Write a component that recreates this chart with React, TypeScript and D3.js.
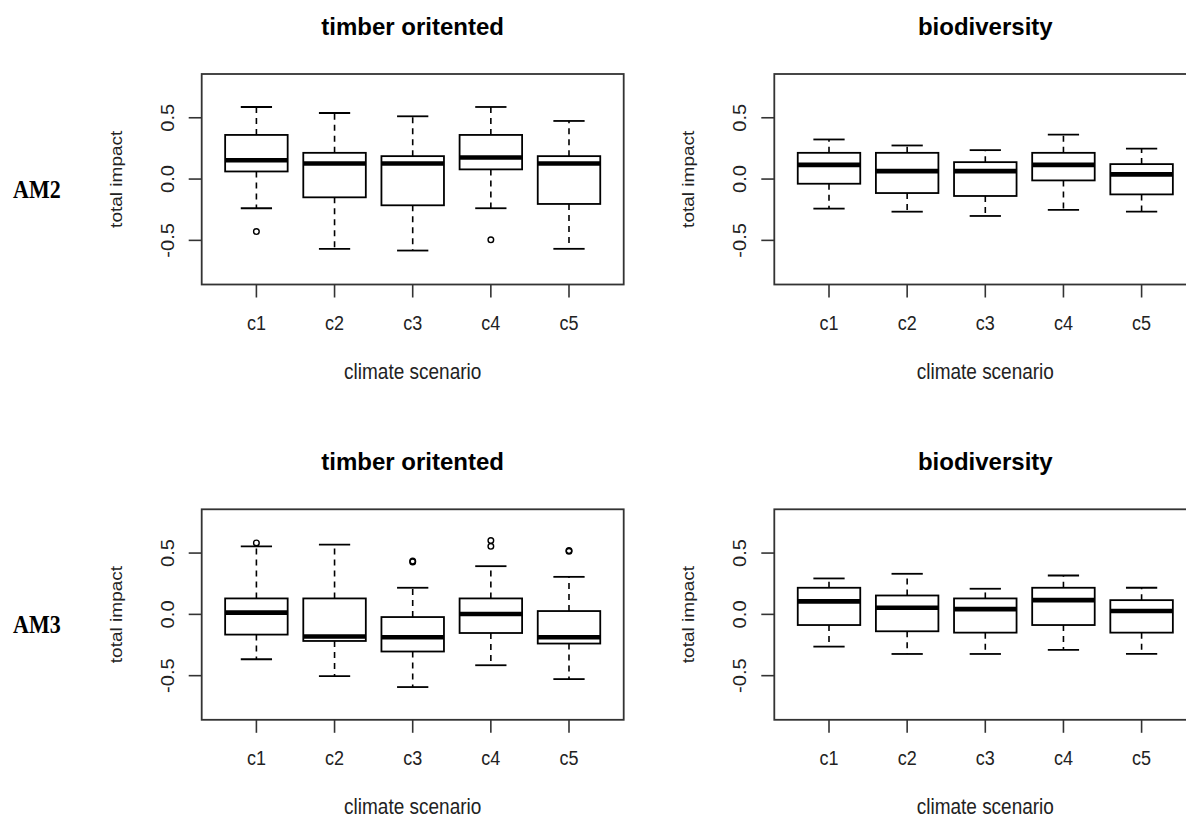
import * as React from "react";
import * as d3 from "d3";

// boxplot stats per climate scenario: [lower whisker, q1, median, q3, upper whisker]
const categories = ["c1", "c2", "c3", "c4", "c5"];
const yTicks = [-0.5, 0, 0.5];

const timberAM2 = [
  [-0.238, 0.062, 0.154, 0.36, 0.588],
  [-0.569, -0.149, 0.127, 0.214, 0.539],
  [-0.583, -0.214, 0.127, 0.187, 0.512],
  [-0.238, 0.079, 0.176, 0.36, 0.588],
  [-0.569, -0.203, 0.127, 0.187, 0.474],
];
const timberAM2Out = [[-0.428], [], [], [-0.496], []];

const bioAM2 = [
  [-0.241, -0.038, 0.116, 0.214, 0.323],
  [-0.266, -0.114, 0.065, 0.214, 0.274],
  [-0.301, -0.138, 0.065, 0.138, 0.236],
  [-0.252, -0.011, 0.116, 0.214, 0.363],
  [-0.266, -0.125, 0.038, 0.122, 0.249],
];
const bioAM2Out = [[], [], [], [], []];

const timberAM3 = [
  [-0.366, -0.165, 0.014, 0.13, 0.555],
  [-0.504, -0.217, -0.181, 0.13, 0.569],
  [-0.593, -0.303, -0.187, -0.022, 0.217],
  [-0.415, -0.152, 0.003, 0.13, 0.393],
  [-0.528, -0.238, -0.187, 0.027, 0.306],
];
const timberAM3Out = [[0.583], [], [0.428, 0.435], [0.555, 0.602], [0.515, 0.52]];

const bioAM3 = [
  [-0.263, -0.087, 0.106, 0.217, 0.293],
  [-0.323, -0.138, 0.054, 0.154, 0.331],
  [-0.323, -0.149, 0.043, 0.13, 0.209],
  [-0.29, -0.087, 0.116, 0.217, 0.317],
  [-0.323, -0.149, 0.027, 0.116, 0.217],
];
const bioAM3Out = [[], [], [], [], []];

const yDomain = [-0.86, 0.857];
const SY = 1.12; // the picture is a bit stretched vertically
const FONT = "Liberation Sans, Arial, sans-serif";

const panels = [
  { title: "timber oritented", stats: timberAM2, out: timberAM2Out, left: 201.7, top: 74 },
  { title: "biodiversity", stats: bioAM2, out: bioAM2Out, left: 774.3, top: 74 },
  { title: "timber oritented", stats: timberAM3, out: timberAM3Out, left: 201.7, top: 509.3 },
  { title: "biodiversity", stats: bioAM3, out: bioAM3Out, left: 774.3, top: 509.3 },
];
const rowLabels = [
  { text: "AM2", y: 198 },
  { text: "AM3", y: 633.3 },
];

const PW = 422, PH = 210.5;

const SText = ({ x, y, rotate, children, ...rest }: any) => (
  <g transform={`translate(${x},${y}) scale(1,${SY})${rotate ? ` rotate(${rotate})` : ""}`}>
    <text {...rest}>{children}</text>
  </g>
);

const Panel = ({ p }: any) => {
  const x = d3.scaleLinear().domain([0.3, 5.7]).range([p.left, p.left + PW]);
  const y = d3.scaleLinear().domain(yDomain).range([p.top + PH, p.top]);
  const bw = 0.4;
  const cw = 0.2;
  const bottom = p.top + PH;
  const cx = p.left + PW / 2;
  return (
    <g>
      <text x={cx} y={p.top - 39} textAnchor="middle" fontFamily={FONT} fontWeight="bold" fontSize={24}>
        {p.title}
      </text>
      {p.stats.map((s: number[], i: number) => {
        const c = i + 1;
        const [lo, q1, med, q3, hi] = s;
        return (
          <g key={i} stroke="#000" fill="none">
            <line x1={x(c)} x2={x(c)} y1={y(q3)} y2={y(hi)} strokeWidth={1.6} strokeDasharray="6,5" />
            <line x1={x(c)} x2={x(c)} y1={y(q1)} y2={y(lo)} strokeWidth={1.6} strokeDasharray="6,5" />
            <line x1={x(c - cw)} x2={x(c + cw)} y1={y(hi)} y2={y(hi)} strokeWidth={1.8} />
            <line x1={x(c - cw)} x2={x(c + cw)} y1={y(lo)} y2={y(lo)} strokeWidth={1.8} />
            <rect x={x(c - bw)} y={y(q3)} width={x(c + bw) - x(c - bw)} height={y(q1) - y(q3)} fill="#fff" strokeWidth={1.8} />
            <line x1={x(c - bw)} x2={x(c + bw)} y1={y(med)} y2={y(med)} strokeWidth={4.6} />
            {p.out[i].map((o: number, j: number) => (
              <circle key={j} cx={x(c)} cy={y(o)} r={2.8} strokeWidth={1.4} />
            ))}
          </g>
        );
      })}
      <rect x={p.left} y={p.top} width={PW} height={PH} fill="none" stroke="#333" strokeWidth={1.8} />
      {yTicks.map((t) => (
        <g key={t}>
          <line x1={p.left - 13} x2={p.left} y1={y(t)} y2={y(t)} stroke="#333" strokeWidth={1.6} />
          <SText x={p.left - 28} y={y(t)} rotate={-90} textAnchor="middle" fontFamily={FONT} fontSize={18} fill="#222">
            {t.toFixed(1)}
          </SText>
        </g>
      ))}
      {categories.map((c, i) => (
        <g key={c}>
          <line x1={x(i + 1)} x2={x(i + 1)} y1={bottom} y2={bottom + 13} stroke="#333" strokeWidth={1.6} />
          <SText x={x(i + 1)} y={bottom + 45} textAnchor="middle" fontFamily={FONT} fontSize={18} fill="#222">
            {c}
          </SText>
        </g>
      ))}
      <SText x={cx} y={bottom + 94} textAnchor="middle" fontFamily={FONT} fontSize={19} fill="#222">
        climate scenario
      </SText>
      <SText x={p.left - 80} y={(p.top + bottom) / 2} rotate={-90} textAnchor="middle" fontFamily={FONT} fontSize={17} fill="#222">
        total impact
      </SText>
    </g>
  );
};

export default function App() {
  return (
    <svg width={1186} height={817} style={{ position: "absolute", left: 0, top: 0, background: "#fff" }}>
      <rect width={1186} height={817} fill="#fff" />
      {rowLabels.map((r) => (
        <SText key={r.text} x={13} y={r.y} fontFamily="Liberation Serif, serif" fontWeight="bold" fontSize={22}>
          {r.text}
        </SText>
      ))}
      {panels.map((p, i) => (
        <Panel key={i} p={p} />
      ))}
    </svg>
  );
}
